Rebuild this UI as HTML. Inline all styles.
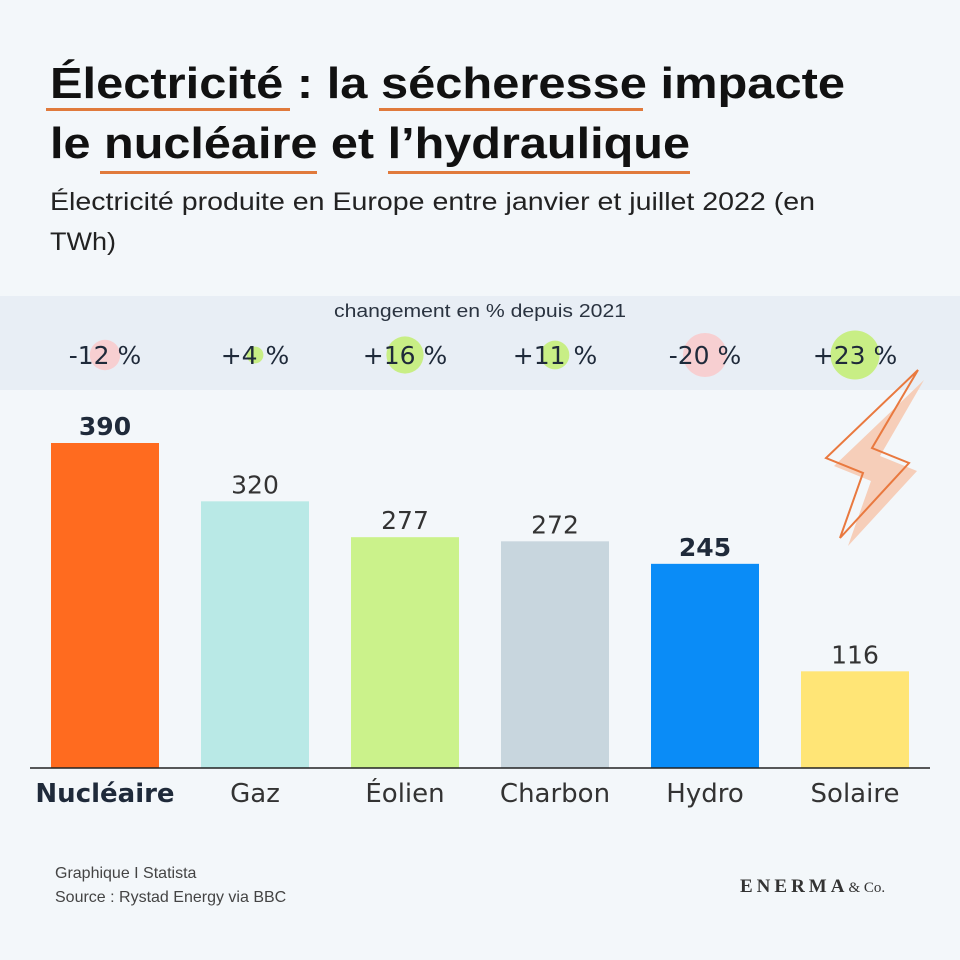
<!DOCTYPE html>
<html><head><meta charset="utf-8"><style>
html,body{margin:0;padding:0;background:#f3f7fa;}
svg{display:block;font-family:"Liberation Sans",sans-serif;}
</style></head><body>
<svg id="chart" width="960" height="960" viewBox="0 0 960 960">
<rect x="0" y="0" width="960" height="960" fill="#f3f7fa"/>
<g font-weight="bold" font-size="44" fill="#111">
<text x="50" y="98" textLength="795" lengthAdjust="spacingAndGlyphs">Électricité : la sécheresse impacte</text>
<text x="50" y="158" textLength="640" lengthAdjust="spacingAndGlyphs">le nucléaire et l’hydraulique</text>
</g>
<g fill="#e07a3c">
<rect x="46" y="108" width="244" height="3"/>
<rect x="379" y="108" width="264" height="3"/>
<rect x="100" y="171" width="217" height="3"/>
<rect x="388" y="171" width="302" height="3"/>
</g>
<text x="50" y="210" font-size="25" fill="#222" textLength="765" lengthAdjust="spacingAndGlyphs">Électricité produite en Europe entre janvier et juillet 2022 (en</text>
<text x="50" y="250" font-size="25" fill="#222" textLength="66" lengthAdjust="spacingAndGlyphs">TWh)</text>
<rect x="0" y="296" width="960" height="94" fill="#e8eef5"/>
<text x="480" y="317" font-size="18" fill="#2a3340" text-anchor="middle" textLength="292" lengthAdjust="spacingAndGlyphs">changement en % depuis 2021</text>
<g id="changes"></g>
<g>
<polygon points="924,380 834,466 871,481 848,546 917,471 880,456" fill="#f6c7ad" opacity="0.85"/>
<polygon points="918,370 826,458 863,473 840,538 909,463 872,448" fill="none" stroke="#e9793f" stroke-width="2" stroke-linejoin="miter"/>
</g>
<g id="bars"></g>
<line x1="30" y1="768" x2="930" y2="768" stroke="#222" stroke-width="1.5"/>
<g id="xlabels"></g>
<text x="55" y="878" font-size="16" fill="#444">Graphique I Statista</text>
<text x="55" y="902" font-size="16" fill="#444">Source : Rystad Energy via BBC</text>
<text x="740" y="892" font-size="19" font-weight="bold" fill="#333" font-family="Liberation Serif,serif" letter-spacing="4">ENERMA<tspan font-size="15" letter-spacing="0" font-weight="normal">&amp; Co.</tspan></text>
</svg>
<script>
const categories = ["Nucléaire","Gaz","Éolien","Charbon","Hydro","Solaire"];
const values = [390,320,277,272,245,116];
const changes = [-12,4,16,11,-20,23];
const barColors = ["#ff6b1f","#b9e9e6","#cbf28b","#c8d6de","#0a8cf7","#ffe576"];
const boldIdx = [0,4];

const NS="http://www.w3.org/2000/svg";
const baseY=768, scaleY=325/390, step=150, x0=51, bw=108;
const xPos=i=>x0+i*step;
const yPos=v=>baseY-v*scaleY;
function mk(t,a){const e=document.createElementNS(NS,t);for(const k in a)e.setAttribute(k,a[k]);return e;}
const gb=document.getElementById('bars'), gx=document.getElementById('xlabels'), gc=document.getElementById('changes');
values.forEach((v,i)=>{
  const r=mk('rect',{x:xPos(i),y:yPos(v),width:bw,height:baseY-yPos(v),fill:barColors[i]});
  
  
  gb.appendChild(r);
  const b=boldIdx.includes(i);
  const t=mk('text',{x:xPos(i)+bw/2,y:yPos(v)-8,'text-anchor':'middle','font-size':'25',fill:b?'#1f2a3a':'#333','font-family':'DejaVu Sans,sans-serif','font-weight':b?'bold':'normal'});
  t.textContent=v;
  
  
  gb.appendChild(t);
  const l=mk('text',{x:xPos(i)+bw/2,y:802,'text-anchor':'middle','font-size':'26',fill:i===0?'#1f2a3a':'#333','font-family':'DejaVu Sans,sans-serif','font-weight':i===0?'bold':'normal'});
  l.textContent=categories[i];
  
  
  gx.appendChild(l);
  const c=changes[i];
  const rad=5+Math.abs(c)*0.85;
  const circ=mk('circle',{cx:xPos(i)+bw/2,cy:355,r:rad,fill:c<0?'#f7cfd1':'#c8ee85'});
  
  
  gc.appendChild(circ);
  const ct=mk('text',{x:xPos(i)+bw/2,y:364,'text-anchor':'middle','font-size':'25',fill:'#1f2a3a','font-family':'DejaVu Sans,sans-serif'});
  ct.textContent=(c<0?'-':'+')+Math.abs(c)+' %';
  
  
  gc.appendChild(ct);
});
</script>
</body></html>
